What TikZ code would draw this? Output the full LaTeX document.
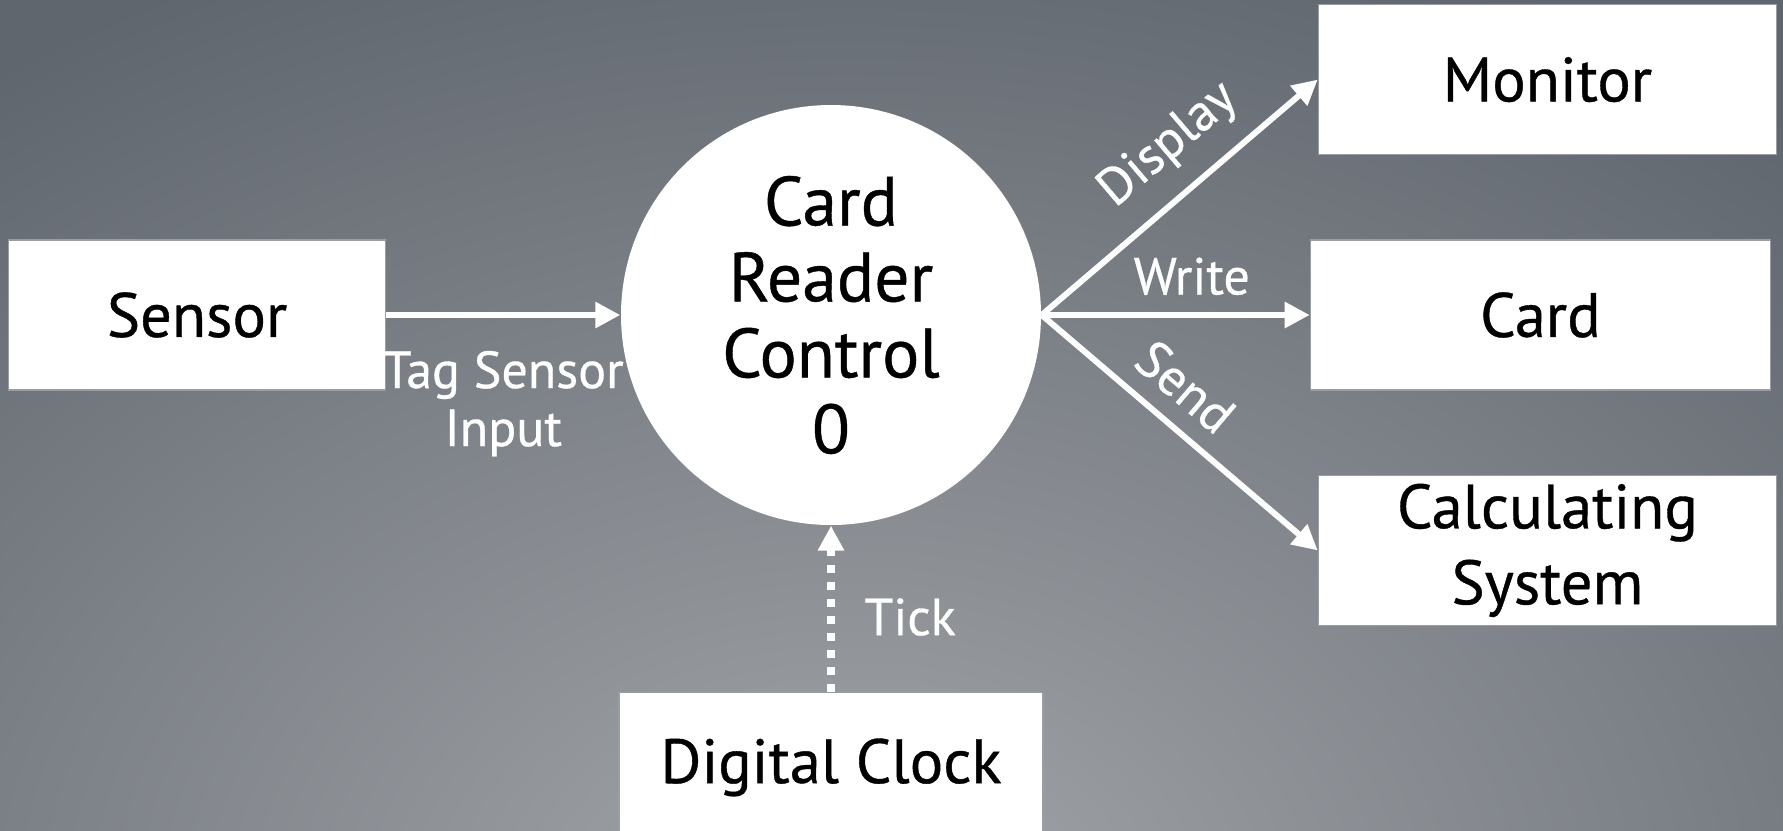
\documentclass[tikz,border=0pt]{standalone}
\usepackage{fontspec}
\setmainfont{PT Sans}
\newfontfamily\heavyface[FakeBold=0.6]{PT Sans}
\usetikzlibrary{positioning,arrows.meta}
\definecolor{slate}{HTML}{60666E}
\definecolor{haze}{HTML}{A3A6AA}
\definecolor{rim}{HTML}{9A9EA4}
\newcommand{\boxfont}{\heavyface\fontsize{17.8}{21.6}\selectfont}
\newcommand{\procfont}{\heavyface\fontsize{19.8}{21.6}\selectfont}
\newcommand{\flowfont}{\heavyface\fontsize{14.8}{16.5}\selectfont}

\begin{document}
\begin{tikzpicture}[
  box/.style={draw=rim,fill=white,minimum width=45.8mm,minimum height=15mm,align=center,text=black,font=\boxfont,inner sep=0pt},
  proc/.style={circle,fill=white,minimum size=42mm,align=center,text=black,font=\procfont,inner sep=0pt},
  flow/.style={-{Triangle[length=2.5mm,width=2.5mm]},line width=1.7pt,white},
  tickflow/.style={flow,line width=2pt,dash pattern=on 0.75mm off 0.95mm},
  lbl/.style={text=white,font=\flowfont,align=center,inner sep=0pt}]
% backdrop
\useasboundingbox (0,0) rectangle (17.83,-8.30);
\fill[slate] (0,0) rectangle (17.83,-8.30);
\begin{scope}
\clip (0,0) rectangle (17.83,-8.30);
\shade[inner color=haze,outer color=slate] (8.5,-9.2) ellipse [x radius=14.5,y radius=10.5];
\end{scope}
\node[proc] (ctrl) at (8.31,-3.15) {Card\\Reader\\Control\\0};
\node[box,minimum width=37.7mm,left=23.4mm of ctrl] (sensor) {Sensor};
\node[box,minimum width=46mm,right=26.8mm of ctrl] (card) {Card};
\node[box,above=8.4mm of card,xshift=0.7mm] (monitor) {Monitor};
\node[box,below=8.4mm of card,xshift=0.7mm] (calc) {Calculating\\System};
\node[box,minimum width=42.4mm,below=16.6mm of ctrl] (clock) {Digital Clock};
\draw[flow] (sensor) -- node[lbl,below=3.3mm]{Tag Sensor\\Input} (ctrl);
\draw[flow] (ctrl.east) -- node[lbl,pos=0.57,sloped,above=2mm]{Display} (monitor.west);
\draw[flow] (ctrl.east) -- node[lbl,pos=0.56,above=1.7mm]{Write} (card.west);
\draw[flow] (ctrl.east) -- node[lbl,pos=0.43,sloped,above=1.7mm]{Send} (calc.west);
\draw[tickflow] (clock) -- node[lbl,pos=0.45,right=3mm]{Tick} (ctrl);
\end{tikzpicture}
\end{document}
